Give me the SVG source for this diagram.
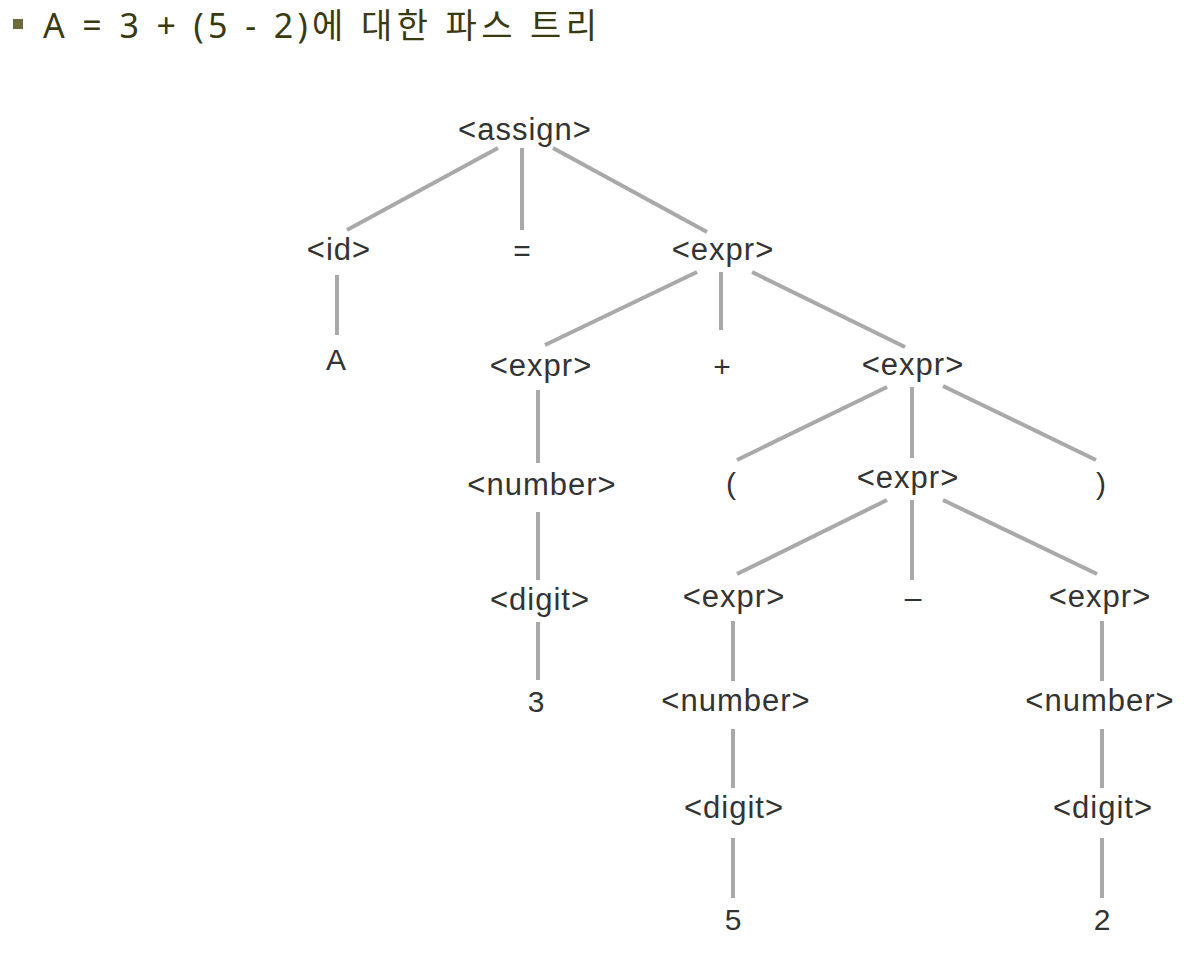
<svg xmlns="http://www.w3.org/2000/svg" width="1196" height="970" viewBox="0 0 1196 970">
<style>
.t{font-family:"Liberation Sans",Arial,sans-serif;font-size:31px;fill:#333;text-anchor:middle;letter-spacing:1px}
.s{font-family:"Liberation Sans",Arial,sans-serif;font-size:30px;fill:#333;text-anchor:middle}
.title{font-family:"Noto Sans","Noto Sans CJK KR",sans-serif;font-size:34px;fill:#3a3a12}
#edges line{stroke:#a9a9a9;stroke-width:4;stroke-linecap:butt}
</style>
<rect width="1196" height="970" fill="#fff"/>
<g id="title">
<rect x="13" y="19" width="10" height="10" fill="#6b6b3b"/>
<text class="title" x="43" y="38" textLength="554" lengthAdjust="spacing">A = 3 + (5 - 2)에 대한 파스 트리</text>
</g>
<g id="edges">
<line x1="498" y1="148" x2="347" y2="230"/>
<line x1="522" y1="148" x2="522" y2="230"/>
<line x1="553" y1="148" x2="707" y2="232"/>
<line x1="337" y1="275" x2="337" y2="335"/>
<line x1="697" y1="272" x2="545" y2="345"/>
<line x1="721" y1="272" x2="721" y2="330"/>
<line x1="752" y1="272" x2="905" y2="347"/>
<line x1="538" y1="390" x2="538" y2="463"/>
<line x1="887" y1="387" x2="737" y2="460"/>
<line x1="912" y1="387" x2="912" y2="458"/>
<line x1="943" y1="386" x2="1096" y2="460"/>
<line x1="538" y1="512" x2="538" y2="580"/>
<line x1="538" y1="622" x2="538" y2="680"/>
<line x1="887" y1="500" x2="737" y2="574"/>
<line x1="912" y1="500" x2="912" y2="580"/>
<line x1="943" y1="500" x2="1097" y2="574"/>
<line x1="733" y1="621" x2="733" y2="681"/>
<line x1="1102" y1="621" x2="1102" y2="681"/>
<line x1="733" y1="729" x2="733" y2="788"/>
<line x1="1102" y1="729" x2="1102" y2="788"/>
<line x1="733" y1="838" x2="733" y2="898"/>
<line x1="1102" y1="838" x2="1102" y2="898"/>
</g>
<g id="n-assign"><text class="t" x="525" y="140">&lt;assign&gt;</text></g>
<g id="n-id"><text class="t" x="339" y="260">&lt;id&gt;</text></g>
<g id="n-eq"><text class="s" x="522" y="261">=</text></g>
<g id="n-expr1"><text class="t" x="723" y="260">&lt;expr&gt;</text></g>
<g id="n-A"><text class="s" x="336" y="370">A</text></g>
<g id="n-expr2"><text class="t" x="541" y="376">&lt;expr&gt;</text></g>
<g id="n-plus"><text class="s" x="722" y="377">+</text></g>
<g id="n-expr3"><text class="t" x="913" y="375">&lt;expr&gt;</text></g>
<g id="n-number1"><text class="t" x="542" y="495">&lt;number&gt;</text></g>
<g id="n-lparen"><text class="s" x="731" y="494">(</text></g>
<g id="n-expr4"><text class="t" x="908" y="488">&lt;expr&gt;</text></g>
<g id="n-rparen"><text class="s" x="1101" y="494">)</text></g>
<g id="n-digit1"><text class="t" x="540" y="610">&lt;digit&gt;</text></g>
<g id="n-expr5"><text class="t" x="734" y="607">&lt;expr&gt;</text></g>
<g id="n-minus"><text class="s" x="913" y="608">–</text></g>
<g id="n-expr6"><text class="t" x="1100" y="607">&lt;expr&gt;</text></g>
<g id="n-3"><text class="s" x="536" y="712">3</text></g>
<g id="n-number2"><text class="t" x="736" y="711">&lt;number&gt;</text></g>
<g id="n-number3"><text class="t" x="1100" y="711">&lt;number&gt;</text></g>
<g id="n-digit2"><text class="t" x="734" y="818">&lt;digit&gt;</text></g>
<g id="n-digit3"><text class="t" x="1103" y="818">&lt;digit&gt;</text></g>
<g id="n-5"><text class="s" x="733" y="930">5</text></g>
<g id="n-2"><text class="s" x="1102" y="930">2</text></g>
</svg>
